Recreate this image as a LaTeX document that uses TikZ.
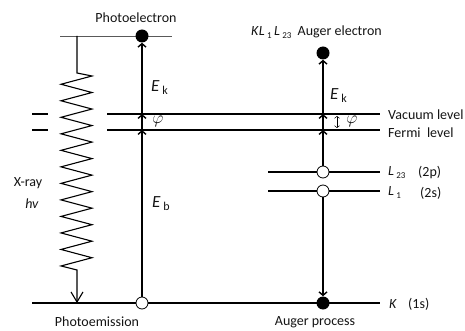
\documentclass[tikz,border=0pt]{standalone}
\usepackage{fontspec}
\setmainfont{Carlito}
\usetikzlibrary{arrows.meta}
\newcommand{\lowsub}[1]{\raisebox{-3pt}{\fontsize{9}{9}\selectfont #1}}
\newcommand{\Ek}{\fontsize{17}{17}\selectfont\textit{E}\,\raisebox{-3pt}{\fontsize{12}{12}\selectfont k}}
\newcommand{\Eb}{\fontsize{17}{17}\selectfont\textit{E}\,\raisebox{-3pt}{\fontsize{12}{12}\selectfont b}}
\begin{document}
\begin{tikzpicture}[x=1pt,y=-1pt,
  lvl/.style={line width=1.6pt},
  vln/.style={line width=1.4pt},
  barb/.style={-{Straight Barb[length=3.5pt,width=8pt]}},
  lab/.style={font=\fontsize{14}{16}\selectfont, inner sep=0pt, text=black!92},
  opendot/.style={circle, draw, fill=white, line width=0.8pt, minimum size=12pt, inner sep=0pt},
  fulldot/.style={circle, fill=black, minimum size=13pt, inner sep=0pt},
  anch/.style={inner sep=0pt, minimum size=0pt}
]
\useasboundingbox (0,0) rectangle (465,331);

% energy levels
\draw[lvl] (32,114) -- (48,114);
\draw[lvl] (32,130) -- (48,130);
\draw[lvl] (107,114) -- (380,114);
\draw[lvl] (107,130) -- (380,130);
\draw[lvl] (268,172) -- (380,172);
\draw[lvl] (268,191) -- (380,191);
\draw[lvl] (32,303) -- (380,303);
\draw[line width=0.6pt, black!65] (60,36) -- (172,36);

% dots
\node[fulldot] (pe) at (142,36) {};
\node[opendot] (c0) at (142,303) {};
\node[fulldot] (ae) at (323,53) {};
\node[opendot] (c23) at (323,172) {};
\node[opendot] (c1) at (323,191) {};
\node[fulldot] (kd) at (323,303) {};

% crossing points
\coordinate (lf) at (142,130);
\coordinate (lv) at (142,114);
\coordinate (rf) at (323,130);
\coordinate (rv) at (323,114);

% left vertical
\draw[vln, barb] (c0.north) -- (lf);
\draw[vln, barb] (lf) -- (lv);
\draw[vln, barb] (lv) -- (pe.south);
% right vertical
\draw[vln, barb] (c23.north) -- (rf);
\draw[vln, barb] (rf) -- (rv);
\draw[vln, barb] (rv) -- (ae.south);
\draw[vln, barb] (c1.south) -- (kd.north);

% work function arrow
\coordinate (pa) at (337,116);
\coordinate (pb) at (337,128);
\draw[line width=0.5pt, {Straight Barb[length=2pt,width=5pt]}-{Straight Barb[length=2pt,width=5pt]}] (pa) -- (pb);

% X-ray zigzag
\coordinate (xtop) at (77,36);
\coordinate (xbot) at (77,303);
\draw[line width=1.1pt, -{Straight Barb[length=10pt,width=12pt]}]
  (xtop) -- (77,73)
  \foreach \i in {0,...,11} { -- (92,{76+\i*16.52}) -- (61,{84.26+\i*16.52}) }
  -- (77,270) -- (xbot);

% labels
\node[lab] (tpe) at (136,18) {Photoelectron};
\node[lab, anchor=west] (tae) at (251,32) {\textit{K}\textit{L}\,\lowsub{1}\,\textit{L}\,\lowsub{23}\ \ Auger electron};
\node[lab] (tpm) at (97,322) {Photoemission};
\node[lab] (tap) at (315,322) {Auger process};
\node[lab, anchor=west] (ek1) at (151,88) {\Ek};
\node[lab, anchor=west] (ek2) at (330,96) {\Ek};
\node[lab, anchor=west] (eb) at (152,204) {\Eb};
\node[lab, font=\fontsize{17}{17}\selectfont] (phi1) at (158,121) {$\varphi$};
\node[lab, font=\fontsize{17}{17}\selectfont] (phi2) at (352,121) {$\varphi$};
\node[lab, anchor=west] (tvac) at (388,115) {Vacuum level};
\node[lab, anchor=west] (tfer) at (388,133) {Fermi\ \ level};
\node[lab, anchor=west] (tl23) at (388,173) {\textit{L}\,\lowsub{23}};
\node[lab, anchor=west] (t2p) at (418,173) {(2p)};
\node[lab, anchor=west] (tl1) at (388,193) {\textit{L}\,\lowsub{1}};
\node[lab, anchor=west] (t2s) at (420,193) {(2s)};
\node[lab, anchor=west] (tk) at (389,304) {\textit{K}};
\node[lab, anchor=west] (t1s) at (408,304) {(1s)};
\node[lab] (txr) at (28,183) {X-ray};
\node[lab] (thv) at (32,204) {\textit{hv}};
\end{tikzpicture}
\end{document}
